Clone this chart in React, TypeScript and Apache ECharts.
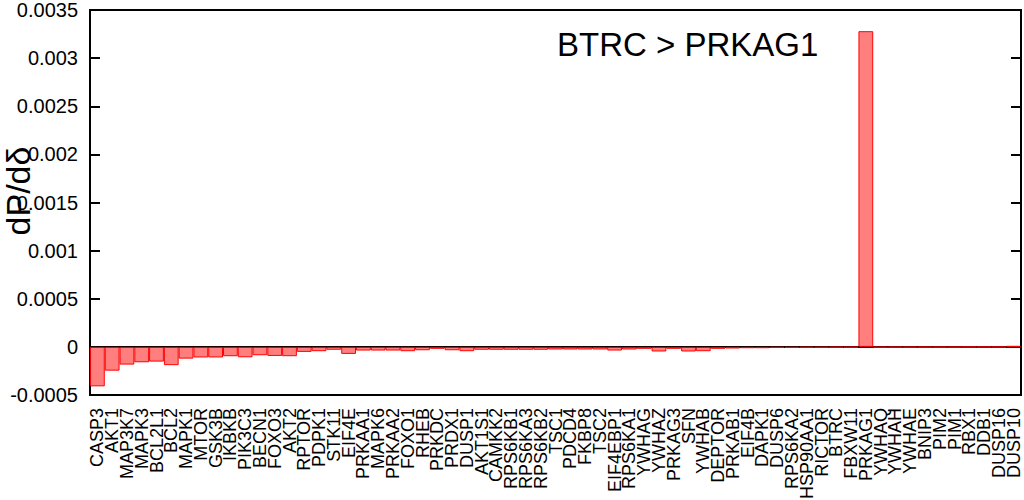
import React, { useEffect, useRef } from "react";
import * as echarts from "echarts";

const genes: string[] = [
  "CASP3", "AKT1", "MAP3K7", "MAPK3", "BCL2L1", "BCL2", "MAPK1", "MTOR", "GSK3B", "IKBKB",
  "PIK3C3", "BECN1", "FOXO3", "AKT2", "RPTOR", "PDPK1", "STK11", "EIF4E", "PRKAA1", "MAPK6",
  "PRKAA2", "FOXO1", "RHEB", "PRKDC", "PRDX1", "DUSP1", "AKT1S1", "CAMKK2", "RPS6KB1", "RPS6KA3",
  "RPS6KB2", "TSC1", "PDCD4", "FKBP8", "TSC2", "EIF4EBP1", "RPS6KA1", "YWHAG", "YWHAZ", "PRKAG3",
  "SFN", "YWHAB", "DEPTOR", "PRKAB1", "EIF4B", "DAPK1", "DUSP6", "RPS6KA2", "HSP90AA1", "RICTOR",
  "BTRC", "FBXW11", "PRKAG1", "YWHAQ", "YWHAH", "YWHAE", "BNIP3", "PIM2", "PIM1", "RBX1",
  "DDB1", "DUSP16", "DUSP10",
];

const dPdDelta: number[] = [
  -0.00041, -0.000247, -0.000184, -0.00016, -0.000153, -0.00019, -0.000122, -0.00011, -0.00011, -0.000097,
  -0.000108, -0.000087, -0.000094, -0.000097, -0.000052, -0.000045, -0.00003, -0.000073, -0.000038, -0.000038,
  -0.000038, -0.000045, -0.000035, -0.00002, -0.000035, -0.000045, -0.00003, -0.00003, -0.00003, -0.00003,
  -0.00003, -0.000027, -0.000027, -0.000027, -0.000027, -0.000038, -0.000027, -0.00002, -0.000048, -0.00002,
  -0.000048, -0.000045, -0.00002, -0.000017, -0.000014, -0.000014, -0.00001, -0.00001, -0.000008, -0.000008,
  -0.000006, -0.000006, 0.00328, -0.000006, -0.000005, -0.000005, -0.000004, -0.000004, -0.000004, -0.000003,
  -0.000003, -0.000003, 0.00001,
];

const yMin = -0.0005;
const yMax = 0.0035;
const yStep = 0.0005;

const titleText = "BTRC > PRKAG1";
const yTitle = "dP/dδ";

const FONT = "'Liberation Sans', Arial, Helvetica, sans-serif";

export default function App() {
  const ref = useRef<HTMLDivElement>(null);
  useEffect(() => {
    document.body.style.margin = "0";
    if (!ref.current) return;
    const chart = echarts.init(ref.current, undefined, { renderer: "svg" });
    const fmt = (v: number) => String(parseFloat(Number(v).toPrecision(6)));
    const yCommon = {
      type: "value" as const,
      min: yMin,
      max: yMax,
      interval: yStep,
      splitLine: { show: false },
      axisLine: { show: true, onZero: false, lineStyle: { color: "#000", width: 2 } },
      axisTick: { show: true, inside: true, length: 10, lineStyle: { color: "#000", width: 2 } },
    };
    chart.setOption({
      animation: false,
      backgroundColor: "#fff",
      textStyle: { fontFamily: FONT },
      grid: {
        left: 90,
        right: 3,
        top: 10,
        bottom: 105,
        containLabel: false,
        outerBoundsMode: "none",
        show: true,
        borderColor: "#000",
        borderWidth: 2,
        backgroundColor: "transparent",
      },
      xAxis: {
        type: "category",
        data: genes,
        boundaryGap: true,
        axisLine: { show: true, lineStyle: { color: "#000", width: 2 } },
        axisTick: { show: false },
        axisLabel: {
          interval: 0,
          rotate: 90,
          fontSize: 18,
          color: "#000",
          fontFamily: FONT,
          margin: 13,
        },
      },
      yAxis: [
        {
          ...yCommon,
          position: "left",
          axisLabel: { show: true, fontSize: 20, color: "#000", fontFamily: FONT, margin: 12, formatter: fmt },
        },
        {
          ...yCommon,
          position: "right",
          axisLabel: { show: false },
        },
      ],
      series: [
        {
          type: "bar",
          data: dPdDelta,
          yAxisIndex: 0,
          barCategoryGap: "0%",
          itemStyle: { color: "rgba(255,0,0,0.5)", borderColor: "#ff0000", borderWidth: 1 },
        },
      ],
      graphic: [
        {
          type: "text",
          left: 557,
          top: 28,
          style: { text: titleText, font: `33px ${FONT}`, fill: "#000" },
        },
        {
          type: "text",
          x: 18,
          y: 191,
          rotation: Math.PI / 2,
          style: {
            text: yTitle,
            font: `34px ${FONT}`,
            fill: "#000",
            align: "center",
            verticalAlign: "middle",
          },
        },
      ],
    });
    return () => chart.dispose();
  }, []);
  return <div ref={ref} style={{ width: 1024, height: 500 }} />;
}
